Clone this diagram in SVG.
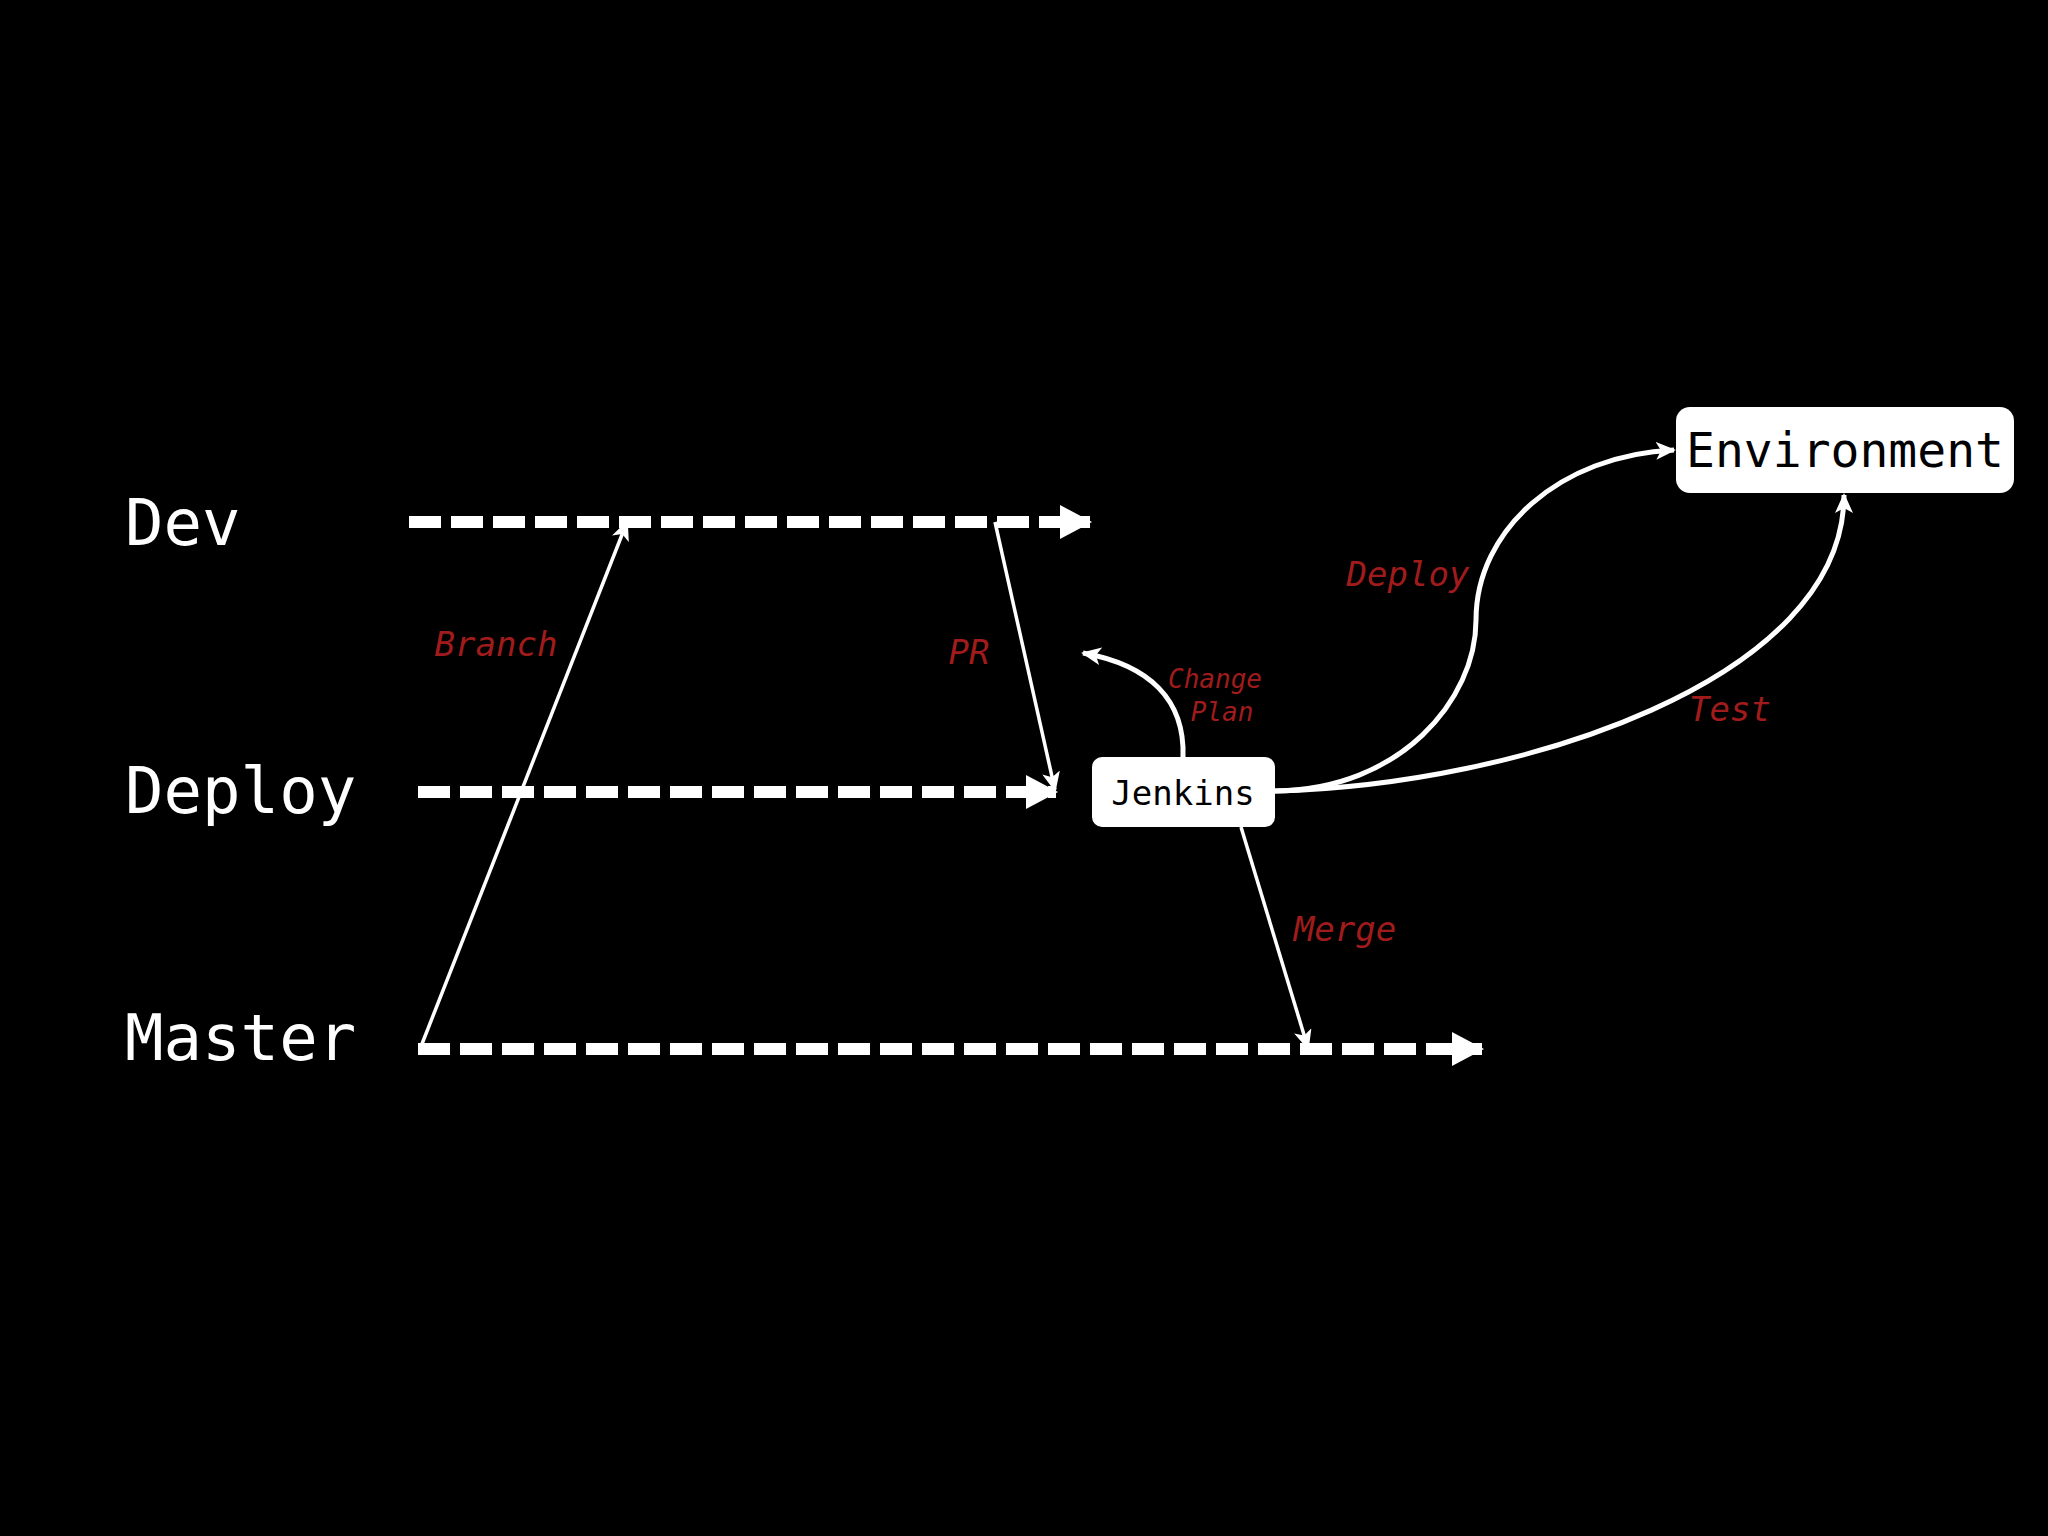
<svg xmlns="http://www.w3.org/2000/svg" width="2048" height="1536" viewBox="0 0 2048 1536">
<style>
.lbl{font-family:"DejaVu Sans Mono",monospace;fill:#fff;font-size:64px}
.red{font-family:"DejaVu Sans Mono",monospace;fill:#a01c1c;font-style:italic;text-anchor:middle}
.dash{stroke:#fff;stroke-width:12;stroke-dasharray:32 10;fill:none;marker-end:url(#big)}
.thin{stroke:#fff;stroke-width:3.5;fill:none;marker-end:url(#small)}
.curve{stroke:#fff;stroke-width:5;fill:none;marker-end:url(#small)}
.box{fill:#fff}
.bt{font-family:"DejaVu Sans Mono",monospace;fill:#000;text-anchor:middle}
</style>
<defs>
<marker id="big" markerUnits="userSpaceOnUse" markerWidth="32" markerHeight="34" refX="30" refY="17" orient="auto"><path d="M0,0 L32,17 L0,34 Z" fill="#fff"/></marker>
<marker id="small" markerUnits="userSpaceOnUse" markerWidth="20" markerHeight="18" refX="18" refY="9" orient="auto"><path d="M0,0 L20,9 L0,18 L5,9 Z" fill="#fff"/></marker>
</defs>
<rect width="2048" height="1536" fill="#000"/>
<text class="lbl" x="125" y="545">Dev</text>
<text class="lbl" x="125" y="813">Deploy</text>
<text class="lbl" x="125" y="1060">Master</text>
<g id="connectors">
<path class="dash" d="M409,522 H1090"/>
<path class="dash" d="M418,792 H1056"/>
<path class="dash" d="M418,1049 H1482"/>
<path class="thin" d="M420,1049 L627,522"/>
<path class="thin" d="M995,522 L1055,790"/>
<path class="thin" d="M1241,827 L1308,1048"/>
<path class="curve" d="M1183,757 C1185,700 1150,665 1083,653"/>
<path class="curve" d="M1275,791 C1400,790 1476,700 1476,620 C1476,530 1560,455 1674,450"/>
<path class="curve" d="M1275,791 C1520,785 1844,680 1844,495"/>
</g>
<text class="red" x="496" y="656" font-size="34">Branch</text>
<text class="red" x="969" y="664" font-size="34">PR</text>
<text class="red" x="1408" y="586" font-size="34">Deploy</text>
<text class="red" x="1730" y="721" font-size="34">Test</text>
<text class="red" x="1345" y="941" font-size="34">Merge</text>
<text class="red" x="1215" y="688" font-size="26">Change</text>
<text class="red" x="1222" y="721" font-size="26">Plan</text>
<g id="jenkins"><rect class="box" x="1092" y="757" width="183" height="70" rx="10"/><text class="bt" x="1183" y="805" font-size="34">Jenkins</text></g>
<g id="environment"><rect class="box" x="1676" y="407" width="338" height="86" rx="14"/><text class="bt" x="1845" y="467" font-size="48">Environment</text></g>
</svg>
